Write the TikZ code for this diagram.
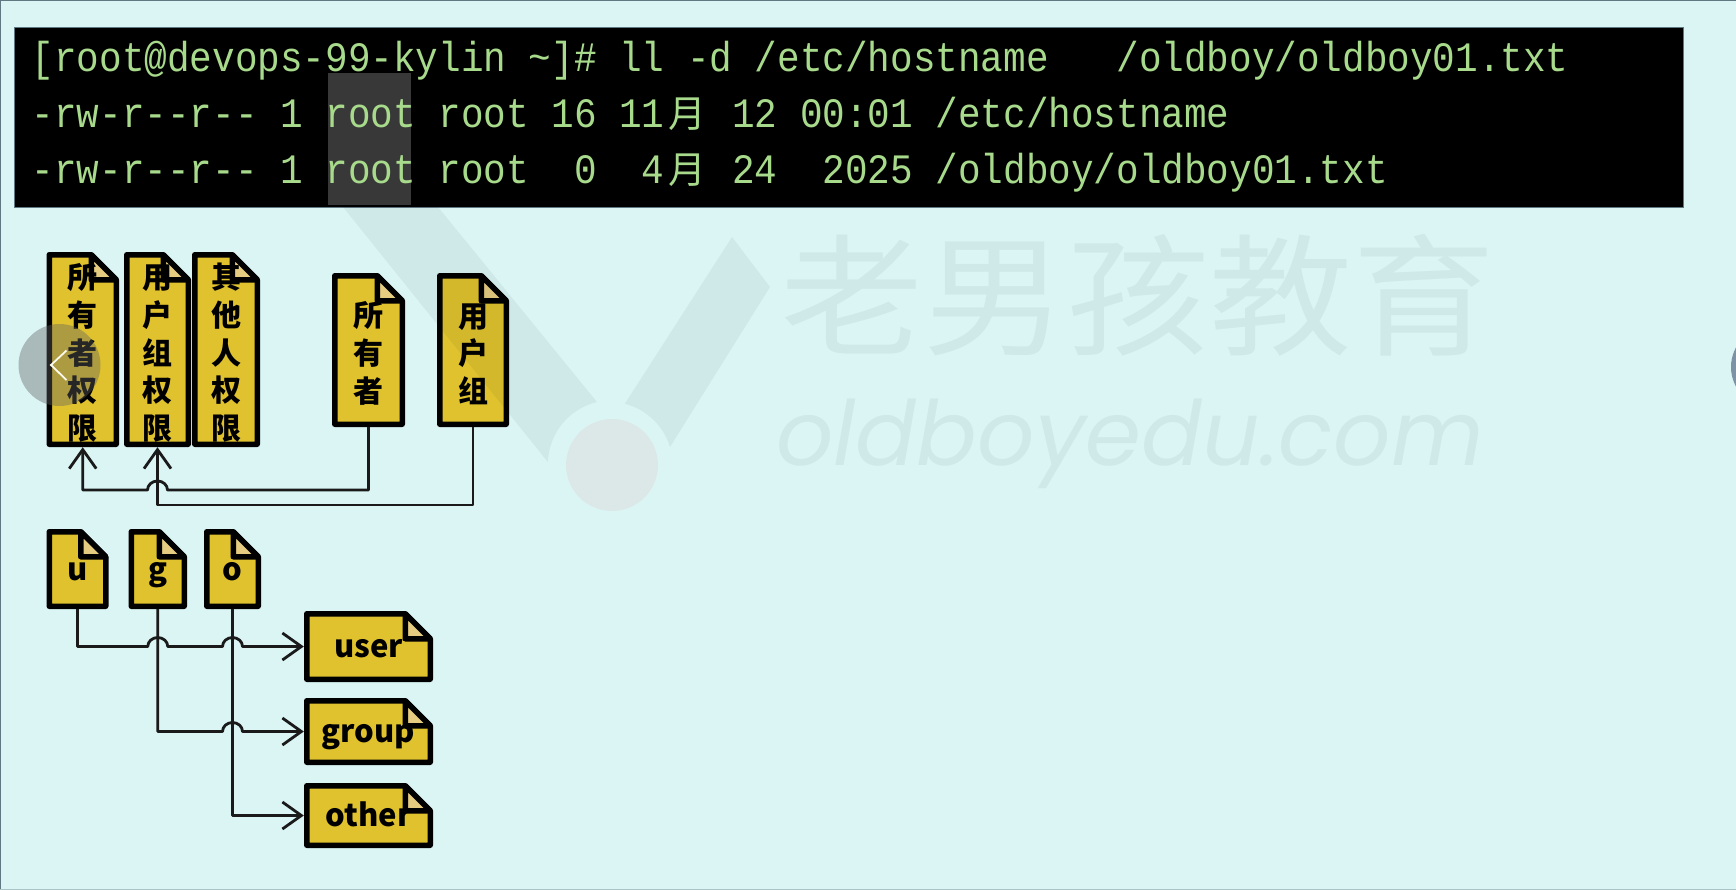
\documentclass[tikz,border=0pt]{standalone}
\usepackage{fontspec}
\usepackage{graphicx}
\usetikzlibrary{calc,arrows.meta}

\newfontfamily\cjk{Noto Sans CJK SC}
\newfontfamily\termfont[FakeStretch=0.9]{Liberation Mono}
\newfontfamily\markfont{Poppins}

\definecolor{pagecol}{HTML}{DBF5F5}
\definecolor{edgecol}{HTML}{607882}
\definecolor{docyellow}{HTML}{E0C22E}
\definecolor{docfold}{HTML}{E6CC80}
\definecolor{termgreen}{HTML}{A8DA8C}
\definecolor{markedcol}{HTML}{383838}
\definecolor{wirecol}{HTML}{1A1A1A}
\definecolor{nextcol}{HTML}{7E92A6}

% one full-width character in the terminal
\newcommand{\yue}{\makebox[45.2pt][c]{\cjk\fontsize{37.67}{40}\selectfont 月}}
% pushes a stacked label down a little
\newcommand{\lift}{\rule{0pt}{32pt}}

% name, style, left, top, right, bottom, text
\newcommand{\docnode}[7]{
    \filldraw [docline] (#3,#4) -- ({#5-25},#4) -- (#5,{#4+25}) -- (#5,#6) -- (#3,#6) -- cycle;
    \filldraw [docline, fill=docfold] ({#5-25},#4) -- (#5,{#4+25}) -- ({#5-25},{#4+25}) -- cycle;
    \node (#1) [#2, minimum width=#5pt-#3pt+5.5pt, minimum height=#6pt-#4pt+5.5pt]
        at ({(#3+#5)/2},{(#4+#6)/2}) {#7};
}
% line bridge over a crossing wire
\newcommand{\hop}[1]{-- ($(#1)+(-10,0)$) arc [start angle=180, end angle=0, x radius=10pt, y radius=9pt]}

\begin{document}
\begin{tikzpicture}
    [
    x=1pt, y=-1pt,
    docline/.style={draw=black, fill=docyellow, line width=5.5pt, line join=round},
    doctall/.style={inner sep=0pt, align=center, text=black,
        font=\cjk\bfseries\fontsize{30}{37.7}\selectfont},
    docword/.style={inner sep=0pt, text=black, text height=22pt, text depth=0pt,
        font=\cjk\bfseries\fontsize{31}{34}\selectfont},
    termline/.style={anchor=base west, inner sep=0pt, text=termgreen,
        font=\termfont\fontsize{41.85}{44}\selectfont},
    wire/.style={draw=wirecol, line width=2.8pt, line join=round,
        -{Straight Barb[length=19pt, width=27pt]}},
    wmark/.style={fill=black, fill opacity=.05},
    wtext/.style={inner sep=0pt, text=black, text opacity=.05}
    ]

    \useasboundingbox (0,0) rectangle (1736,889);
    \fill [pagecol] (0,0) rectangle (1736,889);
    \draw [edgecol, line width=2pt] (0,889) -- (0,0) -- (1736,0);
    \draw [edgecol!40!pagecol, line width=1pt] (0,889) -- (1736,889);

    % Terminal
    \node (term) [anchor=north west, fill=black, draw=edgecol, line width=1pt, inner sep=0pt,
        minimum width=1669pt, minimum height=180pt] at (14,27) {};
    \node (marked) [anchor=north west, fill=markedcol, inner sep=0pt,
        minimum width=83pt, minimum height=132pt] at (328,73) {};
    \node (line1) [termline] at (31.5,71) {[root@devops-99-kylin \textasciitilde]\# ll -d /etc/hostname~~~/oldboy/oldboy01.txt};
    \node (line2) [termline] at (31.5,127) {-rw-r--r-- 1 root root 16 11\yue{} 12 00:01 /etc/hostname};
    \node (line3) [termline] at (31.5,183) {-rw-r--r-- 1 root root~~0~~4\yue{} 24~~2025 /oldboy/oldboy01.txt};

    % Permission notes
    \docnode{perm1}{doctall}{49.25}{254.75}{116.25}{444.25}{\lift 所\\有\\者\\权\\限}
    \docnode{perm2}{doctall}{126.75}{254.75}{188.25}{444.25}{\lift 用\\户\\组\\权\\限}
    \docnode{perm3}{doctall}{194.75}{254.75}{257.25}{444.25}{\lift 其\\他\\人\\权\\限}
    \docnode{owner}{doctall}{334.75}{275.75}{402.25}{424.25}{\lift 所\\有\\者}
    \docnode{ugroup}{doctall}{439.75}{275.75}{506.25}{424.25}{\lift 用\\户\\组}

    % Letter notes
    \docnode{u}{docword}{49.25}{531.75}{105.75}{606.25}{u}
    \docnode{g}{docword}{131.25}{531.75}{184.25}{606.25}{g}
    \docnode{o}{docword}{206.75}{531.75}{258.25}{606.25}{o}
    \docnode{user}{docword}{306.75}{613.75}{430.25}{679.25}{user}
    \docnode{group}{docword}{306.75}{700.75}{430.25}{762.25}{group}
    \docnode{other}{docword}{306.75}{785.75}{430.25}{845.25}{other}

    \coordinate (ownerbend) at (owner.south |- 0,490);
    \coordinate (ugroupbend) at (ugroup.south |- 0,505);
    \coordinate (hopa) at (perm2.south |- ownerbend);
    \coordinate (hopb) at (g.south |- user.west);
    \coordinate (hopc) at (o.south |- user.west);
    \coordinate (hopd) at (o.south |- group.west);

    \draw [wire] (owner.south) -- (ownerbend) -- ($(hopa)+(10,0)$)
        arc [start angle=0, end angle=180, x radius=10pt, y radius=9pt] -| (perm1.south);
    \draw [wire] (ugroup.south) -- (ugroupbend) -| (perm2.south);

    \draw [wire] (u.south) |- ($(hopb)+(-10,0)$)
        arc [start angle=180, end angle=0, x radius=10pt, y radius=9pt] \hop{hopc} -- (user.west);
    \draw [wire] (g.south) |- ($(hopd)+(-10,0)$)
        arc [start angle=180, end angle=0, x radius=10pt, y radius=9pt] -- (group.west);
    \draw [wire] (o.south) |- (other.west);

    % Watermark
    \fill [wmark] (343,207) -- (438,207) -- (597,402) arc [start angle=103.4, end angle=178, radius=64pt] -- cycle;
    \fill [wmark] (732,237) -- (770,287) -- (670,447) arc [start angle=17, end angle=75.5, radius=64pt] -- cycle;
    \node (logodot) [circle, fill=red!50!pagecol, fill opacity=.1, inner sep=0pt, minimum size=92pt] at (612,465) {};
    \node (markcn) [wtext, font=\cjk\fontsize{143}{150}\selectfont] at (1138,295) {\scalebox{1}[.92]{老男孩教育}};
    \node (markurl) [wtext, anchor=base, font=\markfont\itshape\fontsize{90}{100}\selectfont] at (1130,465) {oldboyedu.com};

    % Page arrows
    \node (prevbtn) [circle, fill=black!62, fill opacity=.4, inner sep=0pt, minimum size=82pt] at (59.5,365) {};
    \draw [white!92!docyellow, line width=1.8pt] (66.5,350.5) -- (51,365) -- (66.5,380);
    \node (nextbtn) [circle, fill=nextcol, inner sep=0pt, minimum size=82pt] at (1772,367) {};
\end{tikzpicture}
\end{document}
